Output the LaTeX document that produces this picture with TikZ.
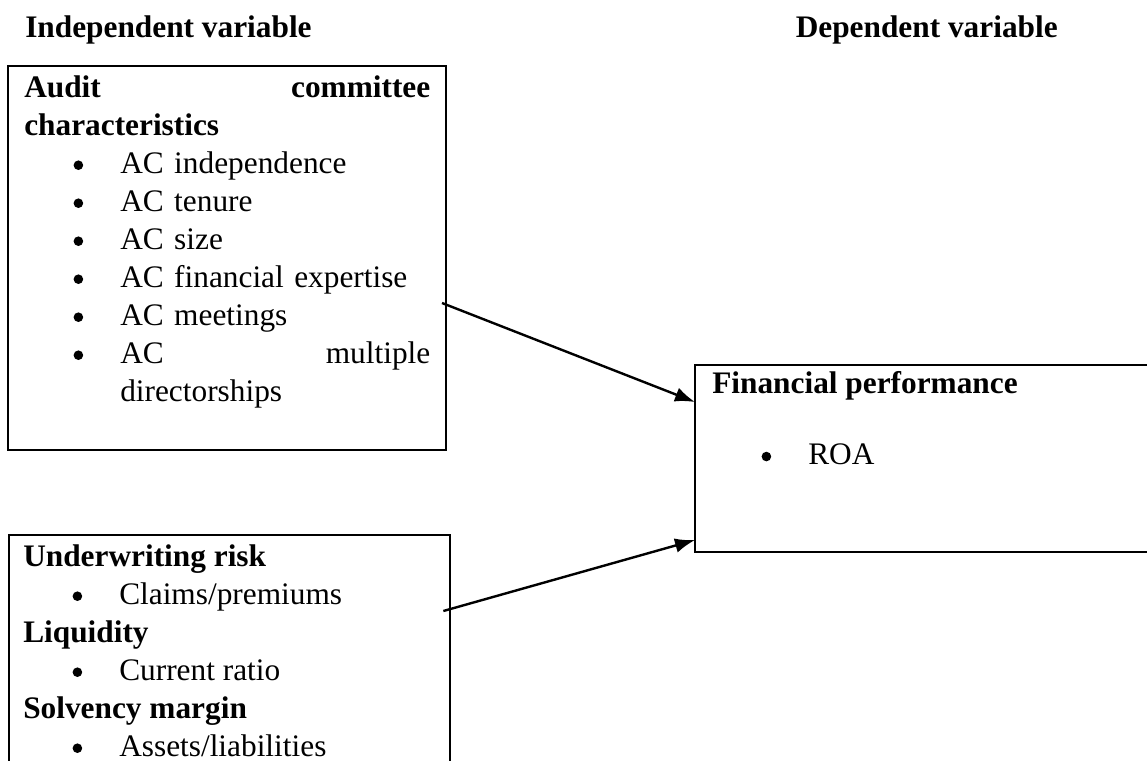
\documentclass[tikz,border=0pt]{standalone}
\usepackage{fontspec}
\setmainfont{Liberation Serif}
\usepackage{tikz}
\usetikzlibrary{
    arrows.meta,
    positioning
}

% one bullet line: dot, then the item text
\newcommand{\bul}[1]{\hspace*{37pt}\makebox[35pt][l]{\tikz[baseline=-6.2pt]\fill (0,0) circle (3.6pt);}#1}

\begin{document}
\begin{tikzpicture}[x=0.75pt, y=-0.75pt,
    frame/.style={inner sep=0pt, outer sep=0pt, anchor=north west},
    body/.style={inner sep=0pt, anchor=north west, align=left,
        font=\fontsize{23.5}{28.5}\selectfont},
    link/.style={-{Latex[length=15pt, width=11pt]}, line width=1.8pt}]
    \useasboundingbox (0, 0) rectangle (1147, 761);

    % column titles
    \node[body, anchor=base west] (indep) at (25, 37) {\bfseries Independent variable};
    \node[body, anchor=base east] (dep) at (1058, 37) {\bfseries Dependent variable};

    % audit committee box
    \node[frame, draw, line width=1.8pt, minimum width=328.5pt, minimum height=288pt]
        (ac) at (8, 66) {};
    \node[body, text width=304.5pt] (ac-text) at (24, 70.6) {%
        \strut\makebox[\linewidth][s]{\bfseries Audit\hfill committee}\\
        {\bfseries characteristics}\\
        \bul{AC independence}\\
        \bul{AC tenure}\\
        \bul{AC size}\\
        \bul{AC financial expertise}\\
        \bul{AC meetings}\\
        \bul{AC\hfill multiple}\\
        \hspace*{72pt}directorships};

    % risk box, runs off the bottom
    \node[frame, minimum width=330.75pt, minimum height=183.75pt] (risk) at (9, 535) {};
    \draw[line width=1.8pt] (risk.south west) -- (risk.north west)
        -- (risk.north east) -- (risk.south east);
    \node[body] (risk-text) at (23, 539.6) {%
        \strut{\bfseries Underwriting risk}\\
        \bul{Claims/premiums}\\
        {\bfseries Liquidity}\\
        \bul{Current ratio}\\
        {\bfseries Solvency margin}\\
        \bul{Assets/liabilities}};

    % performance box, runs off the right side
    \node[frame, minimum width=352.5pt, minimum height=140.25pt] (fp) at (695, 365) {};
    \draw[line width=1.8pt] (fp.north east) -- (fp.north west)
        -- (fp.south west) -- (fp.south east);
    \node[body] (fp-text) at (712, 366.6) {%
        \strut{\bfseries Financial performance}\\[25pt]
        \bul{ROA}};

    % links
    \draw[link] ([xshift=-3pt, yshift=-177.75pt]ac.north east)
        -- ([yshift=-27.75pt]fp.north west);
    \draw[link] ([xshift=-5pt, yshift=-57pt]risk.north east)
        -- ([yshift=-131.25pt]fp.north west);
\end{tikzpicture}
\end{document}
